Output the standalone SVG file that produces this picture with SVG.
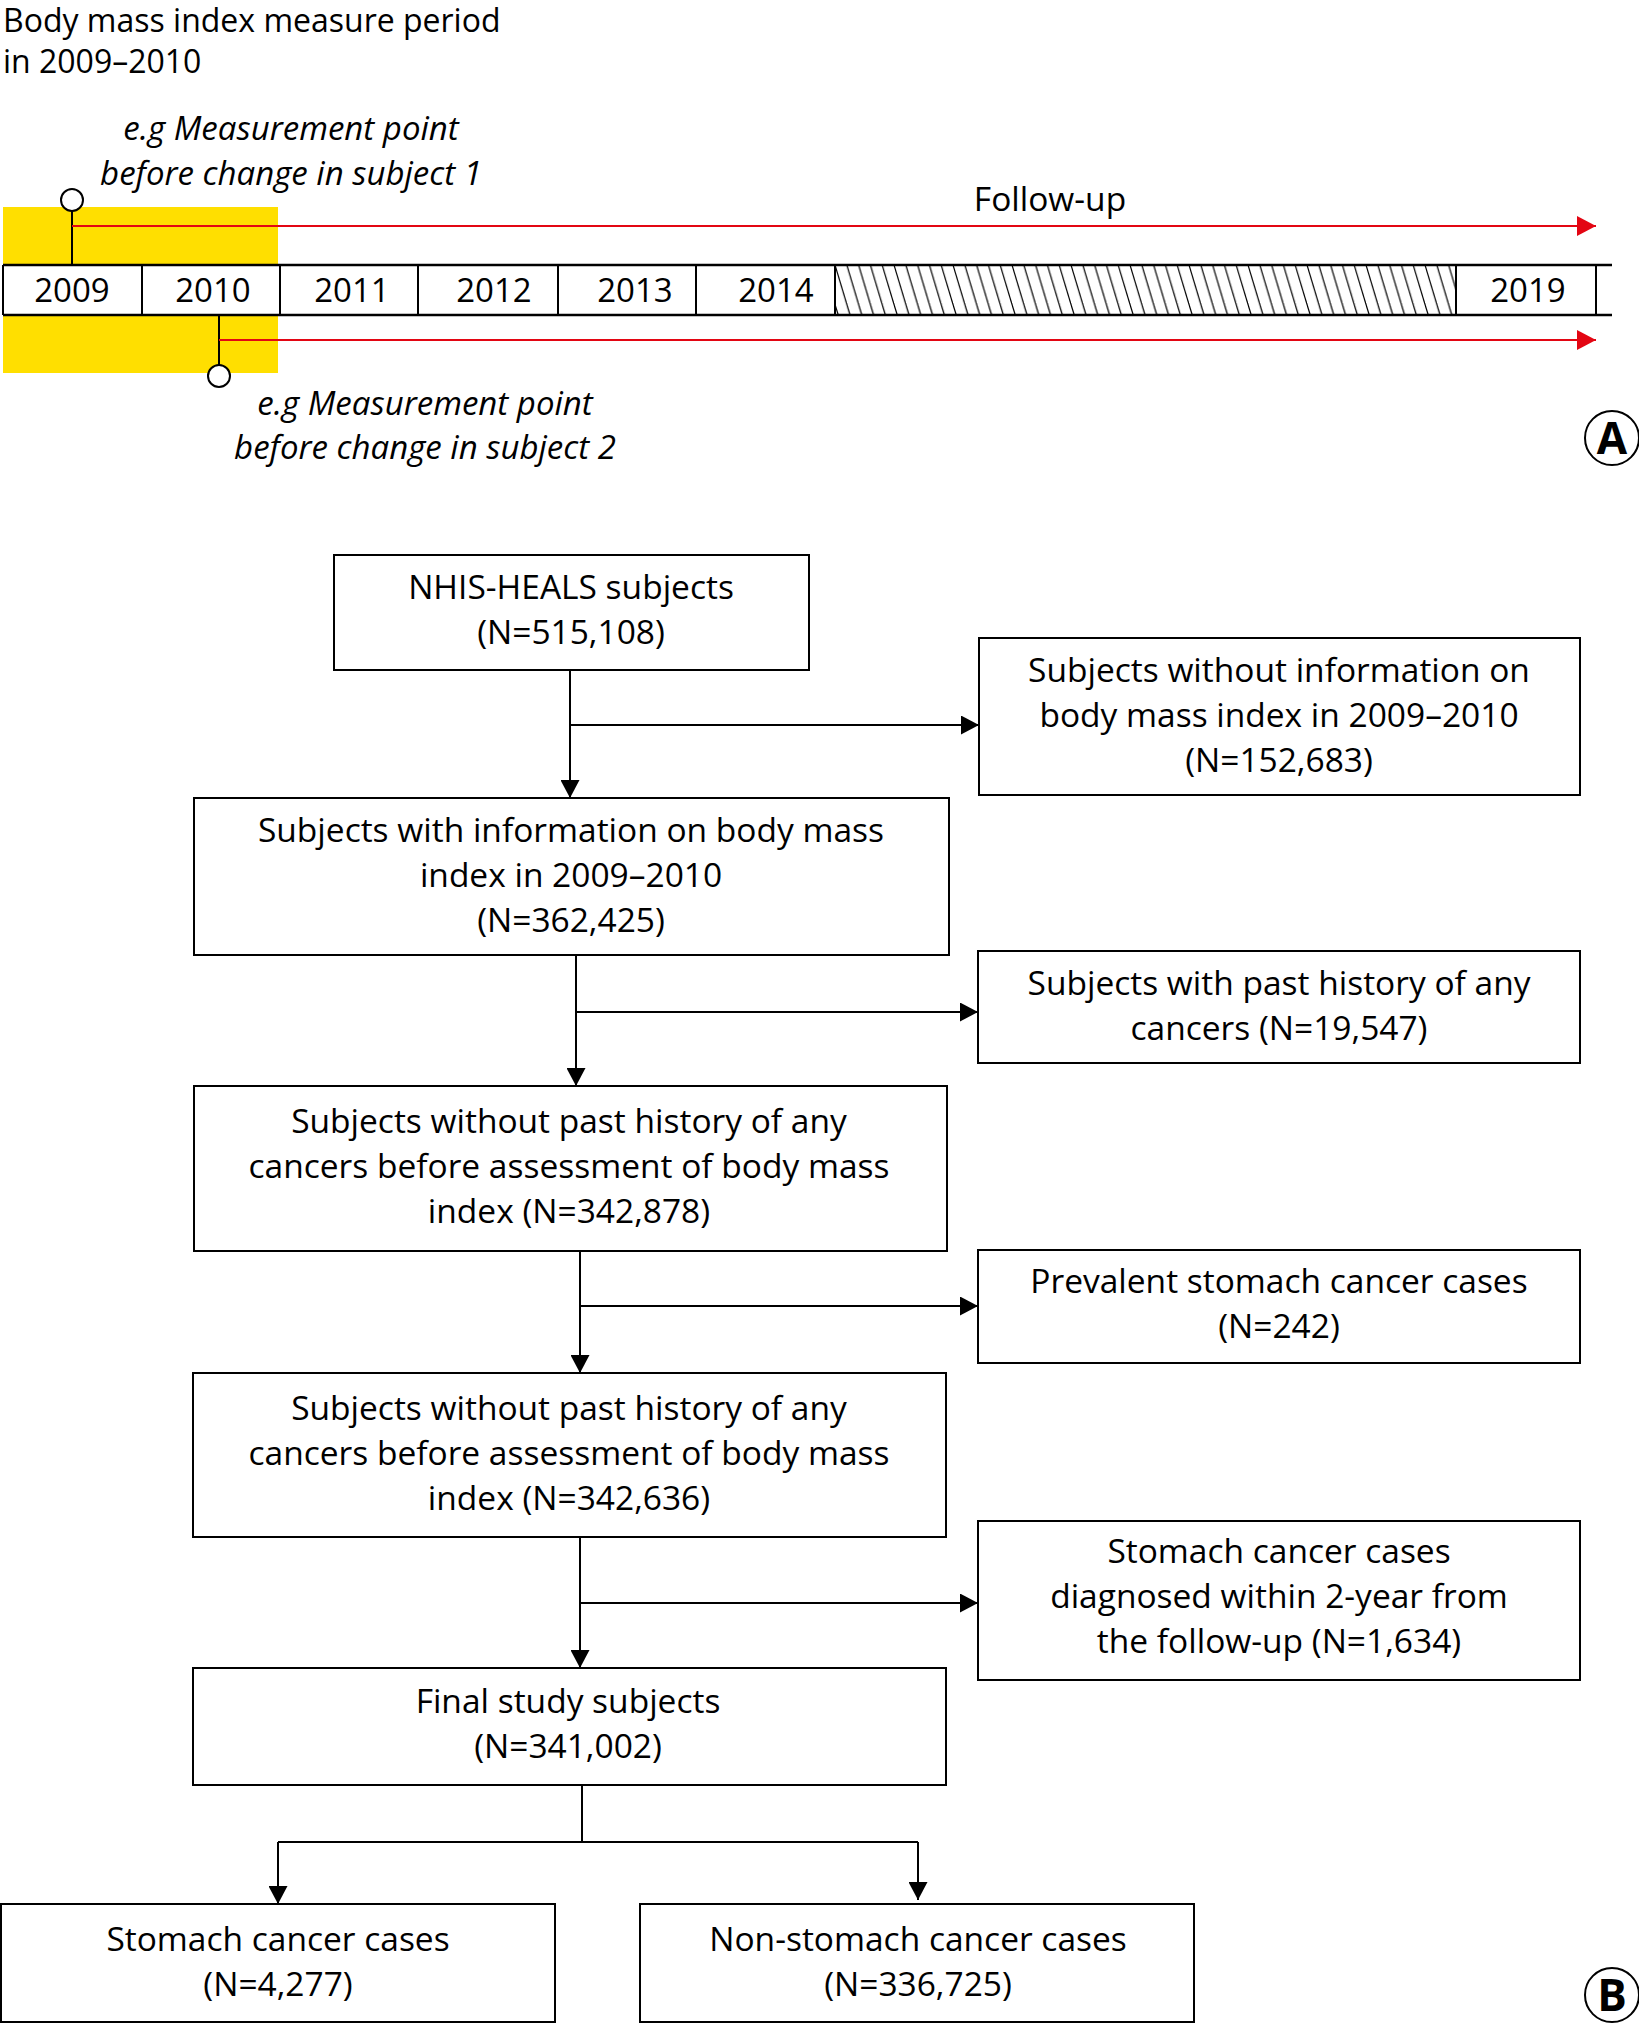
<svg xmlns="http://www.w3.org/2000/svg" width="1639" height="2024" viewBox="0 0 1639 2024">
<style>
text{font-family:"Open Sans","Noto Sans","Liberation Sans",sans-serif;fill:#000;}
.t{font-size:33.5px;text-anchor:middle;}
.it{font-size:33px;font-style:italic;text-anchor:middle;}
.yr{font-size:33px;text-anchor:middle;}
.box{fill:#fff;stroke:#000;stroke-width:2;}
.ln{fill:none;stroke:#000;stroke-width:2;}
.red{fill:none;stroke:#E30613;stroke-width:2;}
.lbl{font-size:44px;font-weight:bold;text-anchor:middle;}
</style>
<defs>
<marker id="ah" markerWidth="18" markerHeight="19" refX="18" refY="9.5" orient="auto" markerUnits="userSpaceOnUse">
<path d="M0,0 L18,9.5 L0,19 Z" fill="#000"/>
</marker>
<marker id="rah" markerWidth="19" markerHeight="20" refX="19" refY="10" orient="auto" markerUnits="userSpaceOnUse">
<path d="M0,0 L19,10 L0,20 Z" fill="#E30613"/>
</marker>
<pattern id="hatch" patternUnits="userSpaceOnUse" x="835" y="265" width="11.8" height="50">
<g stroke="#000" stroke-width="1.2">
<line x1="-23.6" y1="0" x2="-8.6" y2="50"/>
<line x1="-11.8" y1="0" x2="3.2" y2="50"/>
<line x1="0" y1="0" x2="15" y2="50"/>
<line x1="11.8" y1="0" x2="26.8" y2="50"/>
</g>
</pattern>
</defs>

<g id="panelA">
<text x="3" y="32" style="font-size:32px">Body mass index measure period</text>
<text x="3" y="73" style="font-size:32px">in 2009–2010</text>
<rect x="3" y="207" width="275" height="166" fill="#FFDF00"/>
<text class="it" x="291" y="140">e.g Measurement point</text>
<text class="it" x="291" y="185">before change in subject 1</text>
<text class="it" x="425" y="415">e.g Measurement point</text>
<text class="it" x="425" y="459">before change in subject 2</text>
<text class="t" x="1050" y="211">Follow-up</text>
<g id="timeline">
<rect x="3" y="265" width="1593" height="50" fill="#fff"/>
<rect x="835" y="265" width="621" height="50" fill="url(#hatch)"/>
<line class="ln" x1="3" y1="265" x2="1612" y2="265" style="stroke-width:2.5"/>
<line class="ln" x1="3" y1="315" x2="1612" y2="315" style="stroke-width:2.5"/>
<g class="ln">
<line x1="3" y1="265" x2="3" y2="315"/>
<line x1="142" y1="265" x2="142" y2="315"/>
<line x1="280" y1="265" x2="280" y2="315"/>
<line x1="418" y1="265" x2="418" y2="315"/>
<line x1="558" y1="265" x2="558" y2="315"/>
<line x1="696" y1="265" x2="696" y2="315"/>
<line x1="835" y1="265" x2="835" y2="315"/>
<line x1="1456" y1="265" x2="1456" y2="315"/>
<line x1="1596" y1="265" x2="1596" y2="315"/>
</g>
<text class="yr" x="72" y="302">2009</text>
<text class="yr" x="213" y="302">2010</text>
<text class="yr" x="352" y="302">2011</text>
<text class="yr" x="494" y="302">2012</text>
<text class="yr" x="635" y="302">2013</text>
<text class="yr" x="776" y="302">2014</text>
<text class="yr" x="1528" y="302">2019</text>
</g>
<g id="subject1">
<line class="ln" x1="72" y1="211" x2="72" y2="265"/>
<line class="red" x1="72" y1="226" x2="1596" y2="226" marker-end="url(#rah)"/>
<circle cx="72" cy="200" r="11" fill="#fff" stroke="#000" stroke-width="2"/>
</g>
<g id="subject2">
<line class="ln" x1="219" y1="315" x2="219" y2="365"/>
<line class="red" x1="219" y1="340" x2="1596" y2="340" marker-end="url(#rah)"/>
<circle cx="219" cy="376" r="11" fill="#fff" stroke="#000" stroke-width="2"/>
</g>
<g id="labelA">
<circle cx="1612" cy="438" r="27" fill="#fff" stroke="#000" stroke-width="2"/>
<text class="lbl" x="1612" y="454">A</text>
</g>
</g>

<g id="connectors">
<line class="ln" x1="570" y1="670" x2="570" y2="798" marker-end="url(#ah)"/>
<line class="ln" x1="570" y1="725" x2="979" y2="725" marker-end="url(#ah)"/>
<line class="ln" x1="576" y1="955" x2="576" y2="1086" marker-end="url(#ah)"/>
<line class="ln" x1="576" y1="1012" x2="978" y2="1012" marker-end="url(#ah)"/>
<line class="ln" x1="580" y1="1251" x2="580" y2="1373" marker-end="url(#ah)"/>
<line class="ln" x1="580" y1="1306" x2="978" y2="1306" marker-end="url(#ah)"/>
<line class="ln" x1="580" y1="1537" x2="580" y2="1668" marker-end="url(#ah)"/>
<line class="ln" x1="580" y1="1603" x2="978" y2="1603" marker-end="url(#ah)"/>
<polyline class="ln" points="582,1785 582,1842"/>
<polyline class="ln" points="278,1842 918,1842"/>
<line class="ln" x1="278" y1="1842" x2="278" y2="1904" marker-end="url(#ah)"/>
<line class="ln" x1="918" y1="1842" x2="918" y2="1900" marker-end="url(#ah)"/>
</g>

<g id="n1">
<rect class="box" x="334" y="555" width="475" height="115"/>
<text class="t" x="571" y="599">NHIS-HEALS subjects</text>
<text class="t" x="571" y="644">(N=515,108)</text>
</g>
<g id="r1">
<rect class="box" x="979" y="638" width="601" height="157"/>
<text class="t" x="1279" y="682">Subjects without information on</text>
<text class="t" x="1279" y="727">body mass index in 2009–2010</text>
<text class="t" x="1279" y="772">(N=152,683)</text>
</g>
<g id="n2">
<rect class="box" x="194" y="798" width="755" height="157"/>
<text class="t" x="571" y="842">Subjects with information on body mass</text>
<text class="t" x="571" y="887">index in 2009–2010</text>
<text class="t" x="571" y="932">(N=362,425)</text>
</g>
<g id="r2">
<rect class="box" x="978" y="951" width="602" height="112"/>
<text class="t" x="1279" y="995">Subjects with past history of any</text>
<text class="t" x="1279" y="1040">cancers (N=19,547)</text>
</g>
<g id="n3">
<rect class="box" x="194" y="1086" width="753" height="165"/>
<text class="t" x="569" y="1133">Subjects without past history of any</text>
<text class="t" x="569" y="1178">cancers before assessment of body mass</text>
<text class="t" x="569" y="1223">index (N=342,878)</text>
</g>
<g id="r3">
<rect class="box" x="978" y="1250" width="602" height="113"/>
<text class="t" x="1279" y="1293">Prevalent stomach cancer cases</text>
<text class="t" x="1279" y="1338">(N=242)</text>
</g>
<g id="n4">
<rect class="box" x="193" y="1373" width="753" height="164"/>
<text class="t" x="569" y="1420">Subjects without past history of any</text>
<text class="t" x="569" y="1465">cancers before assessment of body mass</text>
<text class="t" x="569" y="1510">index (N=342,636)</text>
</g>
<g id="r4">
<rect class="box" x="978" y="1521" width="602" height="159"/>
<text class="t" x="1279" y="1563">Stomach cancer cases</text>
<text class="t" x="1279" y="1608">diagnosed within 2-year from</text>
<text class="t" x="1279" y="1653">the follow-up (N=1,634)</text>
</g>
<g id="n5">
<rect class="box" x="193" y="1668" width="753" height="117"/>
<text class="t" x="568" y="1713">Final study subjects</text>
<text class="t" x="568" y="1758">(N=341,002)</text>
</g>
<g id="b1">
<rect class="box" x="1" y="1904" width="554" height="118"/>
<text class="t" x="278" y="1951">Stomach cancer cases</text>
<text class="t" x="278" y="1996">(N=4,277)</text>
</g>
<g id="b2">
<rect class="box" x="640" y="1904" width="554" height="118"/>
<text class="t" x="918" y="1951">Non-stomach cancer cases</text>
<text class="t" x="918" y="1996">(N=336,725)</text>
</g>
<g id="labelB">
<circle cx="1612" cy="1995" r="27" fill="#fff" stroke="#000" stroke-width="2"/>
<text class="lbl" x="1612" y="2011">B</text>
</g>
</svg>
